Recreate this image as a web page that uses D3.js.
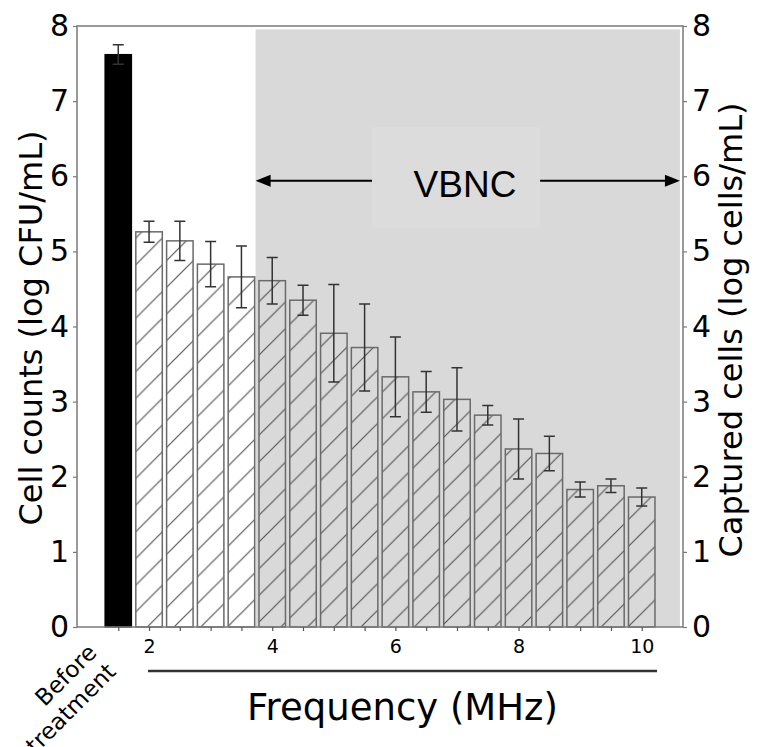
<!DOCTYPE html>
<html>
<head>
<meta charset="utf-8">
<script src="https://cdn.jsdelivr.net/npm/d3@7"></script>
<style>
    html, body { margin: 0; padding: 0; background: #fff; }
    svg { display: block; }
</style>
</head>
<body>
<div id="chart"></div>
<script>
// frequencies (MHz) of the treated samples
const frequencies = [2, 2.5, 3, 3.5, 4, 4.5, 5, 5.5, 6, 6.5, 7, 7.5, 8, 8.5, 9, 9.5, 10];
// cell counts (log CFU/mL) and their errors
const cellCounts = [5.26, 5.14, 4.83, 4.66, 4.61, 4.35, 3.91, 3.72, 3.33, 3.13, 3.03, 2.82, 2.37, 2.31, 1.83, 1.88, 1.73];
const cellErrors = [0.14, 0.26, 0.30, 0.41, 0.31, 0.20, 0.65, 0.58, 0.53, 0.27, 0.42, 0.13, 0.40, 0.23, 0.10, 0.09, 0.12];
// untreated sample, drawn at its own slot left of 2 MHz
const beforeLabel = ['Before', 'treatment'];
const beforePos = 1.5;
const beforeValue = 7.62;
const beforeError = 0.13;
// tick labels
const xTickLabels = [2, 4, 6, 8, 10];
const yTickLabels = [0, 1, 2, 3, 4, 5, 6, 7, 8];
// VBNC region
const vbncStart = 3.73;
const vbncEnd = 10.62;

const width = 761, height = 747;
const plotL = 77, plotR = 683, plotT = 26, plotB = 627;

const svg = d3.select('#chart').append('svg')
    .attr('width', width)
    .attr('height', height);

const x = d3.scaleLinear().domain([0.83, 10.67]).range([plotL, plotR]);
const y = d3.scaleLinear().domain([0, 8]).range([plotB, plotT]);
const barW = 0.43;

// hatch pattern, fixed to the page like matplotlib hatching
const hs = 26.7;
svg.append('defs').append('pattern')
        .attr('id', 'hatch')
        .attr('patternUnits', 'userSpaceOnUse')
        .attr('width', hs)
        .attr('height', hs)
    .append('path')
        .attr('d', `M0,${hs} L${hs},0 M-3,3 L3,-3 M${hs - 3},${hs + 3} L${hs + 3},${hs - 3}`)
        .attr('stroke', '#555')
        .attr('stroke-width', 1.2);

// VBNC shading
svg.append('rect')
    .attr('x', x(vbncStart))
    .attr('y', y(7.955))
    .attr('width', x(vbncEnd) - x(vbncStart))
    .attr('height', y(0) - y(7.955))
    .attr('fill', '#d9d9d9');

svg.append('rect')
    .attr('x', x(5.62))
    .attr('y', y(6.66))
    .attr('width', x(8.35) - x(5.62))
    .attr('height', y(5.31) - y(6.66))
    .attr('fill', '#dcdcdc');

// bars
const bars = frequencies.map((f, i) => ({ f, v: cellCounts[i], e: cellErrors[i] }));

svg.append('rect')
    .attr('x', x(beforePos - barW / 2))
    .attr('y', y(beforeValue))
    .attr('width', x(beforePos + barW / 2) - x(beforePos - barW / 2))
    .attr('height', y(0) - y(beforeValue))
    .attr('fill', '#000')
    .attr('stroke', '#000')
    .attr('stroke-width', 1.2);

svg.append('g')
    .selectAll('rect')
    .data(bars)
    .join('rect')
        .attr('x', d => x(d.f - barW / 2))
        .attr('y', d => y(d.v))
        .attr('width', d => x(d.f + barW / 2) - x(d.f - barW / 2))
        .attr('height', d => y(0) - y(d.v))
        .attr('fill', 'url(#hatch)')
        .attr('stroke', '#6a6a6a')
        .attr('stroke-width', 1.5);

// error bars
const errs = [{ f: beforePos, v: beforeValue, e: beforeError }].concat(bars);
const cap = 5.5;
const eg = svg.append('g')
    .attr('stroke', '#333')
    .attr('stroke-width', 1.5)
    .attr('fill', 'none');

eg.selectAll('path')
    .data(errs)
    .join('path')
        .attr('d', d => {
            const cx = x(d.f), y1 = y(d.v + d.e), y2 = y(d.v - d.e);
            return `M${cx},${y1}V${y2}M${cx - cap},${y1}H${cx + cap}M${cx - cap},${y2}H${cx + cap}`;
        });

// spines
svg.append('rect')
    .attr('x', plotL)
    .attr('y', plotT)
    .attr('width', plotR - plotL)
    .attr('height', plotB - plotT)
    .attr('fill', 'none')
    .attr('stroke', '#7a7a7a')
    .attr('stroke-width', 1.5);

// y axes
const yAxisL = d3.axisLeft(y).tickValues(yTickLabels).tickSize(4).tickPadding(4).tickFormat(d3.format('d'));
const yAxisR = d3.axisRight(y).tickValues(yTickLabels).tickSize(4).tickPadding(5).tickFormat(d3.format('d'));

[svg.append('g').attr('transform', `translate(${plotL},0)`).call(yAxisL),
 svg.append('g').attr('transform', `translate(${plotR},0)`).call(yAxisR)].forEach(g => {
    g.select('.domain').remove();
    g.selectAll('line').attr('stroke', '#7a7a7a').attr('stroke-width', 1.2);
    g.selectAll('text')
        .attr('font-family', 'DejaVu Sans')
        .attr('font-size', 30)
        .attr('fill', '#000');
});

// x axis, a tick under every bar
const xAxis = d3.axisBottom(x)
    .tickValues([beforePos].concat(frequencies))
    .tickSize(4)
    .tickFormat(d => xTickLabels.includes(d) ? d : '');

const gx = svg.append('g')
    .attr('transform', `translate(0,${plotB})`)
    .call(xAxis);
gx.select('.domain').remove();
gx.selectAll('line').attr('stroke', '#555').attr('stroke-width', 1.2);
gx.selectAll('text')
    .attr('font-family', 'DejaVu Sans')
    .attr('font-size', 19)
    .attr('fill', '#000')
    .attr('y', 13);

// rotated label for the untreated sample
const bt = svg.append('text')
    .attr('transform', `translate(98,654) rotate(-45)`)
    .attr('text-anchor', 'end')
    .attr('font-family', 'DejaVu Sans')
    .attr('font-size', 23);
bt.selectAll('tspan')
    .data(beforeLabel)
    .join('tspan')
        .attr('x', 0)
        .attr('dy', (d, i) => i ? 27 : 0)
        .text(d => d);

// bracket line under the frequency ticks
svg.append('line')
    .attr('x1', 148)
    .attr('x2', 657)
    .attr('y1', 671)
    .attr('y2', 671)
    .attr('stroke', '#333')
    .attr('stroke-width', 2.5);

svg.append('text')
    .attr('x', 402.5)
    .attr('y', 720)
    .attr('text-anchor', 'middle')
    .attr('font-family', 'DejaVu Sans')
    .attr('font-size', 37)
    .text('Frequency (MHz)');

// axis titles
svg.append('text')
    .attr('transform', `translate(42,328) rotate(-90)`)
    .attr('text-anchor', 'middle')
    .attr('font-family', 'DejaVu Sans')
    .attr('font-size', 32)
    .text('Cell counts (log CFU/mL)');

svg.append('text')
    .attr('transform', `translate(742,330) rotate(-90)`)
    .attr('text-anchor', 'middle')
    .attr('font-family', 'DejaVu Sans')
    .attr('font-size', 32)
    .text('Captured cells (log cells/mL)');

// VBNC annotation with arrows
const ay = y(5.94);
svg.append('text')
    .attr('x', 465)
    .attr('y', 197)
    .attr('text-anchor', 'middle')
    .attr('font-family', 'Liberation Sans')
    .attr('font-size', 37)
    .text('VBNC');

const arrows = [[x(5.62), x(vbncStart)], [x(8.35), x(vbncEnd)]];
svg.append('g')
    .selectAll('g')
    .data(arrows)
    .join('g')
    .each(function ([from, to]) {
        const g = d3.select(this);
        const dir = Math.sign(to - from);
        g.append('line')
            .attr('x1', from)
            .attr('x2', to - dir * 12)
            .attr('y1', ay)
            .attr('y2', ay)
            .attr('stroke', '#000')
            .attr('stroke-width', 2);
        g.append('path')
            .attr('d', `M${to},${ay} L${to - dir * 15},${ay - 6} L${to - dir * 15},${ay + 6} Z`)
            .attr('fill', '#000');
    });
</script>
</body>
</html>
